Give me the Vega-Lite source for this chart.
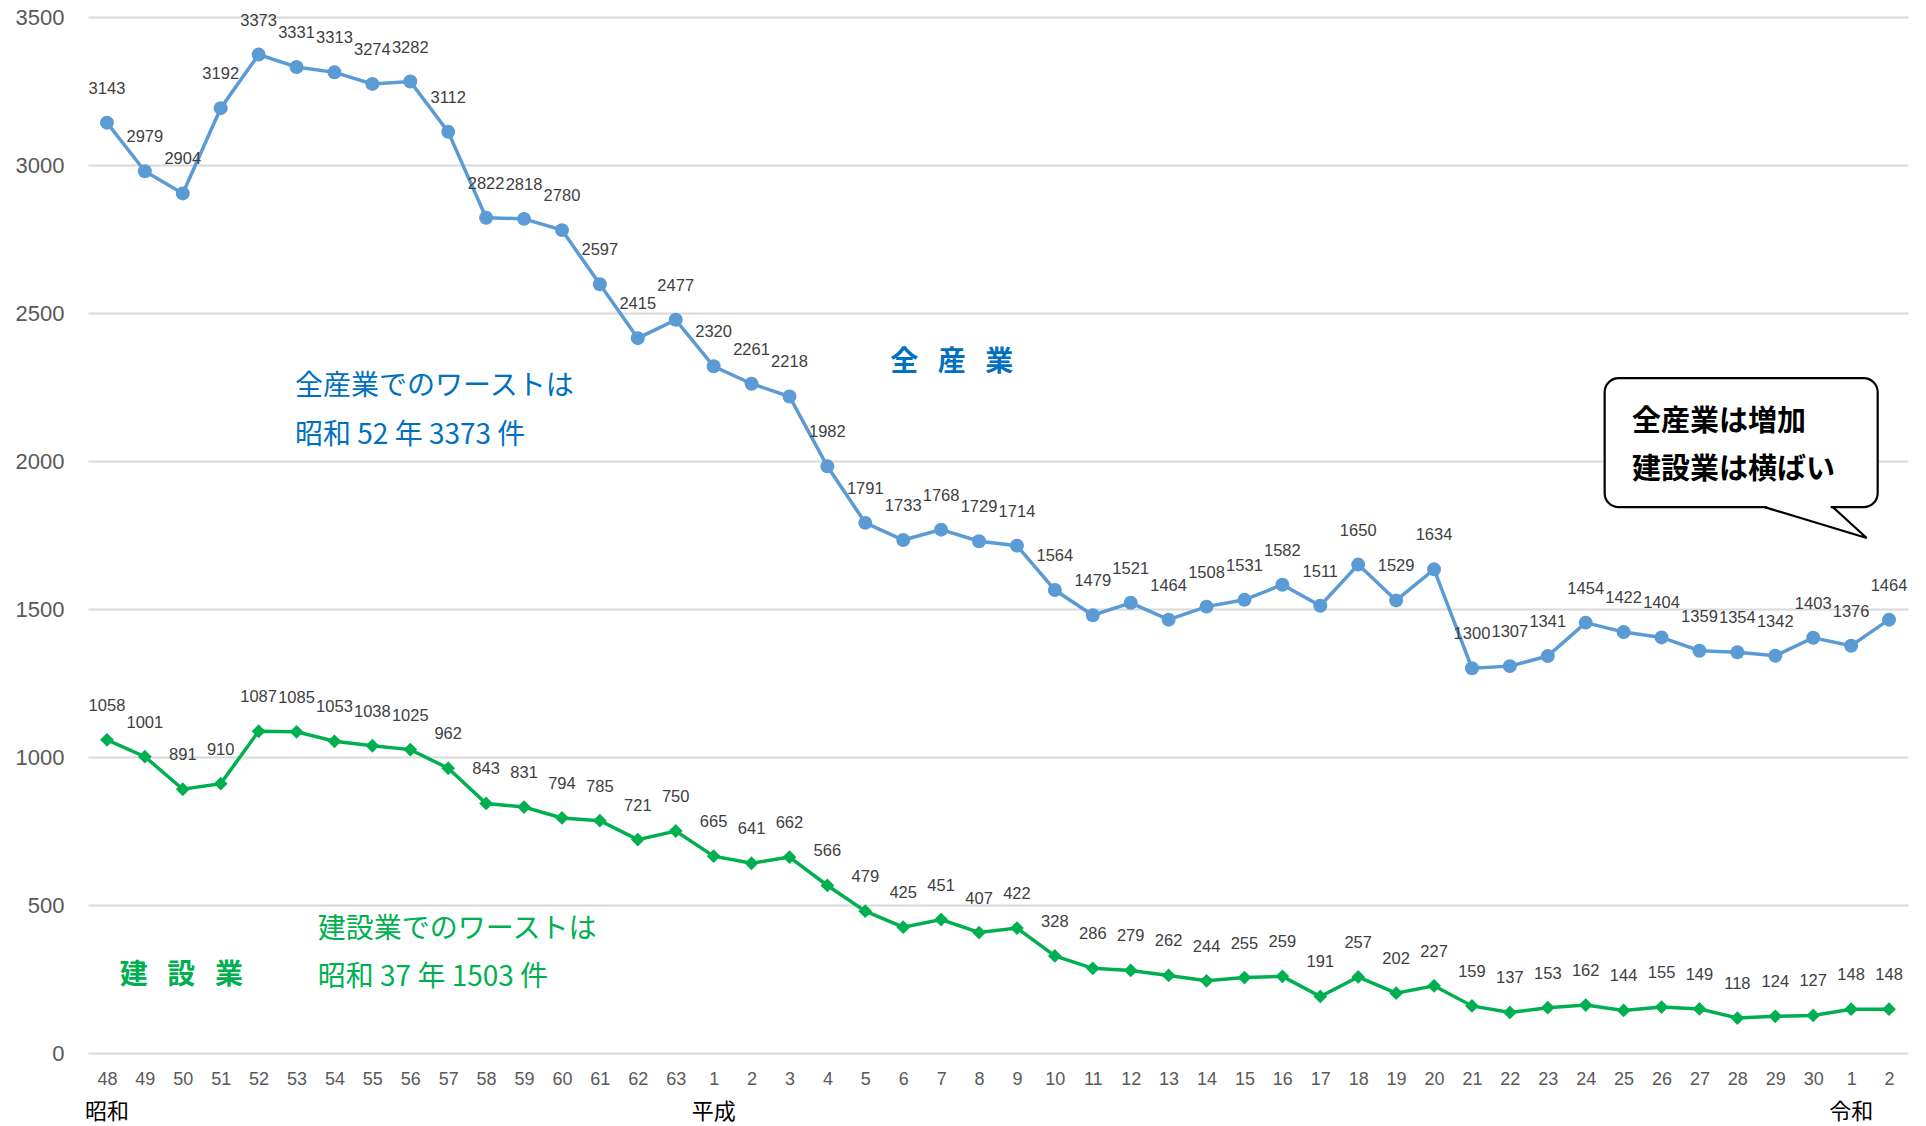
{
  "$schema": "https://vega.github.io/schema/vega-lite/v6.json",
  "width": 1820,
  "height": 1036,
  "autosize": "none",
  "padding": {"left": 88, "top": 17, "right": 18, "bottom": 73},
  "background": "white",
  "config": {
    "view": {"stroke": null},
    "font": "Liberation Sans",
    "numberFormat": "d",
    "axisX": {"labelOverlap": false, "tickCount": 48, "labelFlush": false, "ticks": false, "domain": false, "grid": false, "labelFontSize": 18, "labelColor": "#595959", "labelPadding": 17, "labelFont": "Liberation Sans"},
    "axisY": {"labelOverlap": false, "ticks": false, "domain": false, "grid": true, "gridColor": "#D9D9D9", "gridWidth": 2, "labelFontSize": 22, "labelColor": "#595959", "labelPadding": 24, "labelFont": "Liberation Sans"}
  },
  "datasets": {
    "accidents": [
      {"i": 0, "all": 3143, "con": 1058},
      {"i": 1, "all": 2979, "con": 1001},
      {"i": 2, "all": 2904, "con": 891},
      {"i": 3, "all": 3192, "con": 910},
      {"i": 4, "all": 3373, "con": 1087},
      {"i": 5, "all": 3331, "con": 1085},
      {"i": 6, "all": 3313, "con": 1053},
      {"i": 7, "all": 3274, "con": 1038},
      {"i": 8, "all": 3282, "con": 1025},
      {"i": 9, "all": 3112, "con": 962},
      {"i": 10, "all": 2822, "con": 843},
      {"i": 11, "all": 2818, "con": 831},
      {"i": 12, "all": 2780, "con": 794},
      {"i": 13, "all": 2597, "con": 785},
      {"i": 14, "all": 2415, "con": 721},
      {"i": 15, "all": 2477, "con": 750},
      {"i": 16, "all": 2320, "con": 665},
      {"i": 17, "all": 2261, "con": 641},
      {"i": 18, "all": 2218, "con": 662},
      {"i": 19, "all": 1982, "con": 566},
      {"i": 20, "all": 1791, "con": 479},
      {"i": 21, "all": 1733, "con": 425},
      {"i": 22, "all": 1768, "con": 451},
      {"i": 23, "all": 1729, "con": 407},
      {"i": 24, "all": 1714, "con": 422},
      {"i": 25, "all": 1564, "con": 328},
      {"i": 26, "all": 1479, "con": 286},
      {"i": 27, "all": 1521, "con": 279},
      {"i": 28, "all": 1464, "con": 262},
      {"i": 29, "all": 1508, "con": 244},
      {"i": 30, "all": 1531, "con": 255},
      {"i": 31, "all": 1582, "con": 259},
      {"i": 32, "all": 1511, "con": 191},
      {"i": 33, "all": 1650, "con": 257},
      {"i": 34, "all": 1529, "con": 202},
      {"i": 35, "all": 1634, "con": 227},
      {"i": 36, "all": 1300, "con": 159},
      {"i": 37, "all": 1307, "con": 137},
      {"i": 38, "all": 1341, "con": 153},
      {"i": 39, "all": 1454, "con": 162},
      {"i": 40, "all": 1422, "con": 144},
      {"i": 41, "all": 1404, "con": 155},
      {"i": 42, "all": 1359, "con": 149},
      {"i": 43, "all": 1354, "con": 118},
      {"i": 44, "all": 1342, "con": 124},
      {"i": 45, "all": 1403, "con": 127},
      {"i": 46, "all": 1376, "con": 148},
      {"i": 47, "all": 1464, "con": 148}
    ],
    "eras": [{"i": 0, "era": "昭和"}, {"i": 16, "era": "平成"}, {"i": 46, "era": "令和"}],
    "one": [{"n": 1}],
    "tail": [{"tx": 43.72, "ty": 1844, "o": 0}, {"tx": 46.41, "ty": 1740, "o": 1}, {"tx": 45.52, "ty": 1844, "o": 2}]
  },
  "data": {"name": "accidents"},
  "layer": [
    {
      "mark": {"type": "line", "color": "#5B9BD5", "strokeWidth": 3.5},
      "encoding": {
        "x": {
          "field": "i", "type": "quantitative", "title": null,
          "scale": {"domain": [-0.5, 47.5], "nice": false, "zero": false},
          "axis": {
            "values": [0,1,2,3,4,5,6,7,8,9,10,11,12,13,14,15,16,17,18,19,20,21,22,23,24,25,26,27,28,29,30,31,32,33,34,35,36,37,38,39,40,41,42,43,44,45,46,47],
            "labelExpr": "['48','49','50','51','52','53','54','55','56','57','58','59','60','61','62','63','1','2','3','4','5','6','7','8','9','10','11','12','13','14','15','16','17','18','19','20','21','22','23','24','25','26','27','28','29','30','1','2'][datum.value]",
            "labelFontSize": 18, "labelColor": "#595959", "labelPadding": 17,
            "labelFlush": false, "labelOverlap": false, "ticks": false, "domain": false, "grid": false,
            "labelFont": "Liberation Sans"
          }
        },
        "y": {
          "field": "all", "type": "quantitative", "title": null,
          "scale": {"domain": [0, 3500], "nice": false, "zero": true},
          "axis": {
            "values": [0, 500, 1000, 1500, 2000, 2500, 3000, 3500],
            "format": "d",
            "labelFontSize": 22, "labelColor": "#595959", "labelPadding": 24,
            "ticks": false, "domain": false, "grid": true,
            "gridColor": "#D9D9D9", "gridWidth": 2, "labelFont": "Liberation Sans"
          }
        }
      }
    },
    {
      "mark": {"type": "point", "shape": "circle", "filled": true, "opacity": 1, "size": 195, "color": "#5B9BD5"},
      "encoding": {
        "x": {"field": "i", "type": "quantitative", "title": null},
        "y": {"field": "all", "type": "quantitative", "title": null}
      }
    },
    {
      "mark": {"type": "text", "dy": -34, "fontSize": 16.5, "color": "#404040", "font": "Liberation Sans"},
      "encoding": {
        "x": {"field": "i", "type": "quantitative", "title": null},
        "y": {"field": "all", "type": "quantitative", "title": null},
        "text": {"field": "all", "type": "quantitative", "format": "d"}
      }
    },
    {
      "mark": {"type": "line", "color": "#00B050", "strokeWidth": 3.5},
      "encoding": {
        "x": {"field": "i", "type": "quantitative", "title": null},
        "y": {"field": "con", "type": "quantitative", "title": null}
      }
    },
    {
      "mark": {"type": "point", "shape": "diamond", "filled": true, "opacity": 1, "size": 190, "color": "#00B050"},
      "encoding": {
        "x": {"field": "i", "type": "quantitative", "title": null},
        "y": {"field": "con", "type": "quantitative", "title": null}
      }
    },
    {
      "mark": {"type": "text", "dy": -34, "fontSize": 16.5, "color": "#404040", "font": "Liberation Sans"},
      "encoding": {
        "x": {"field": "i", "type": "quantitative", "title": null},
        "y": {"field": "con", "type": "quantitative", "title": null},
        "text": {"field": "con", "type": "quantitative", "format": "d"}
      }
    },
    {
      "data": {"name": "eras"},
      "mark": {"type": "text", "fontSize": 22, "color": "#000000", "font": "Noto Sans CJK JP", "baseline": "middle"},
      "encoding": {
        "x": {"field": "i", "type": "quantitative", "title": null},
        "y": {"datum": -200, "type": "quantitative", "title": null},
        "text": {"field": "era"}
      }
    },
    {
      "data": {"name": "one"},
      "mark": {"type": "text", "fontSize": 28, "color": "#0070C0", "font": "Noto Sans CJK JP", "align": "left", "baseline": "middle", "lineHeight": 49},
      "encoding": {
        "x": {"datum": 4.96, "type": "quantitative", "title": null},
        "y": {"datum": 2250, "type": "quantitative", "title": null},
        "text": {"value": ["全産業でのワーストは", "昭和 52 年 3373 件"]}
      }
    },
    {
      "data": {"name": "one"},
      "mark": {"type": "text", "fontSize": 28, "color": "#00B050", "font": "Noto Sans CJK JP", "align": "left", "baseline": "middle", "lineHeight": 48},
      "encoding": {
        "x": {"datum": 5.56, "type": "quantitative", "title": null},
        "y": {"datum": 415, "type": "quantitative", "title": null},
        "text": {"value": ["建設業でのワーストは", "昭和 37 年 1503 件"]}
      }
    },
    {
      "data": {"name": "one"},
      "mark": {"type": "text", "fontSize": 28, "fontWeight": "bold", "color": "#0070C0", "font": "Noto Sans CJK JP", "align": "center", "baseline": "middle"},
      "encoding": {
        "x": {"datum": 22.28, "type": "quantitative", "title": null},
        "y": {"datum": 2330, "type": "quantitative", "title": null},
        "text": {"value": "全\u2002\u2009産\u2002\u2009業"}
      }
    },
    {
      "data": {"name": "one"},
      "mark": {"type": "text", "fontSize": 28, "fontWeight": "bold", "color": "#00B050", "font": "Noto Sans CJK JP", "align": "center", "baseline": "middle"},
      "encoding": {
        "x": {"datum": 1.96, "type": "quantitative", "title": null},
        "y": {"datum": 260, "type": "quantitative", "title": null},
        "text": {"value": "建\u2002\u2009設\u2002\u2009業"}
      }
    },
    {
      "data": {"name": "one"},
      "mark": {"type": "rect", "fill": "white", "stroke": "black", "strokeWidth": 2.2, "cornerRadius": 14},
      "encoding": {
        "x": {"datum": 39.5, "type": "quantitative", "title": null},
        "x2": {"datum": 46.7},
        "y": {"datum": 2280, "type": "quantitative", "title": null},
        "y2": {"datum": 1844}
      }
    },
    {
      "data": {"name": "one"},
      "mark": {"type": "rule", "color": "white", "strokeWidth": 5},
      "encoding": {
        "x": {"datum": 43.78, "type": "quantitative", "title": null},
        "x2": {"datum": 45.46},
        "y": {"datum": 1844, "type": "quantitative", "title": null}
      }
    },
    {
      "data": {"name": "tail"},
      "mark": {"type": "line", "color": "black", "strokeWidth": 2.2, "strokeJoin": "miter"},
      "encoding": {
        "x": {"field": "tx", "type": "quantitative", "title": null},
        "y": {"field": "ty", "type": "quantitative", "title": null},
        "order": {"field": "o"}
      }
    },
    {
      "data": {"name": "one"},
      "mark": {"type": "text", "fontSize": 29, "fontWeight": "bold", "color": "#000000", "font": "Noto Sans CJK JP", "align": "left", "baseline": "middle", "lineHeight": 48},
      "encoding": {
        "x": {"datum": 40.22, "type": "quantitative", "title": null},
        "y": {"datum": 2131, "type": "quantitative", "title": null},
        "text": {"value": ["全産業は増加", "建設業は横ばい"]}
      }
    }
  ]
}
